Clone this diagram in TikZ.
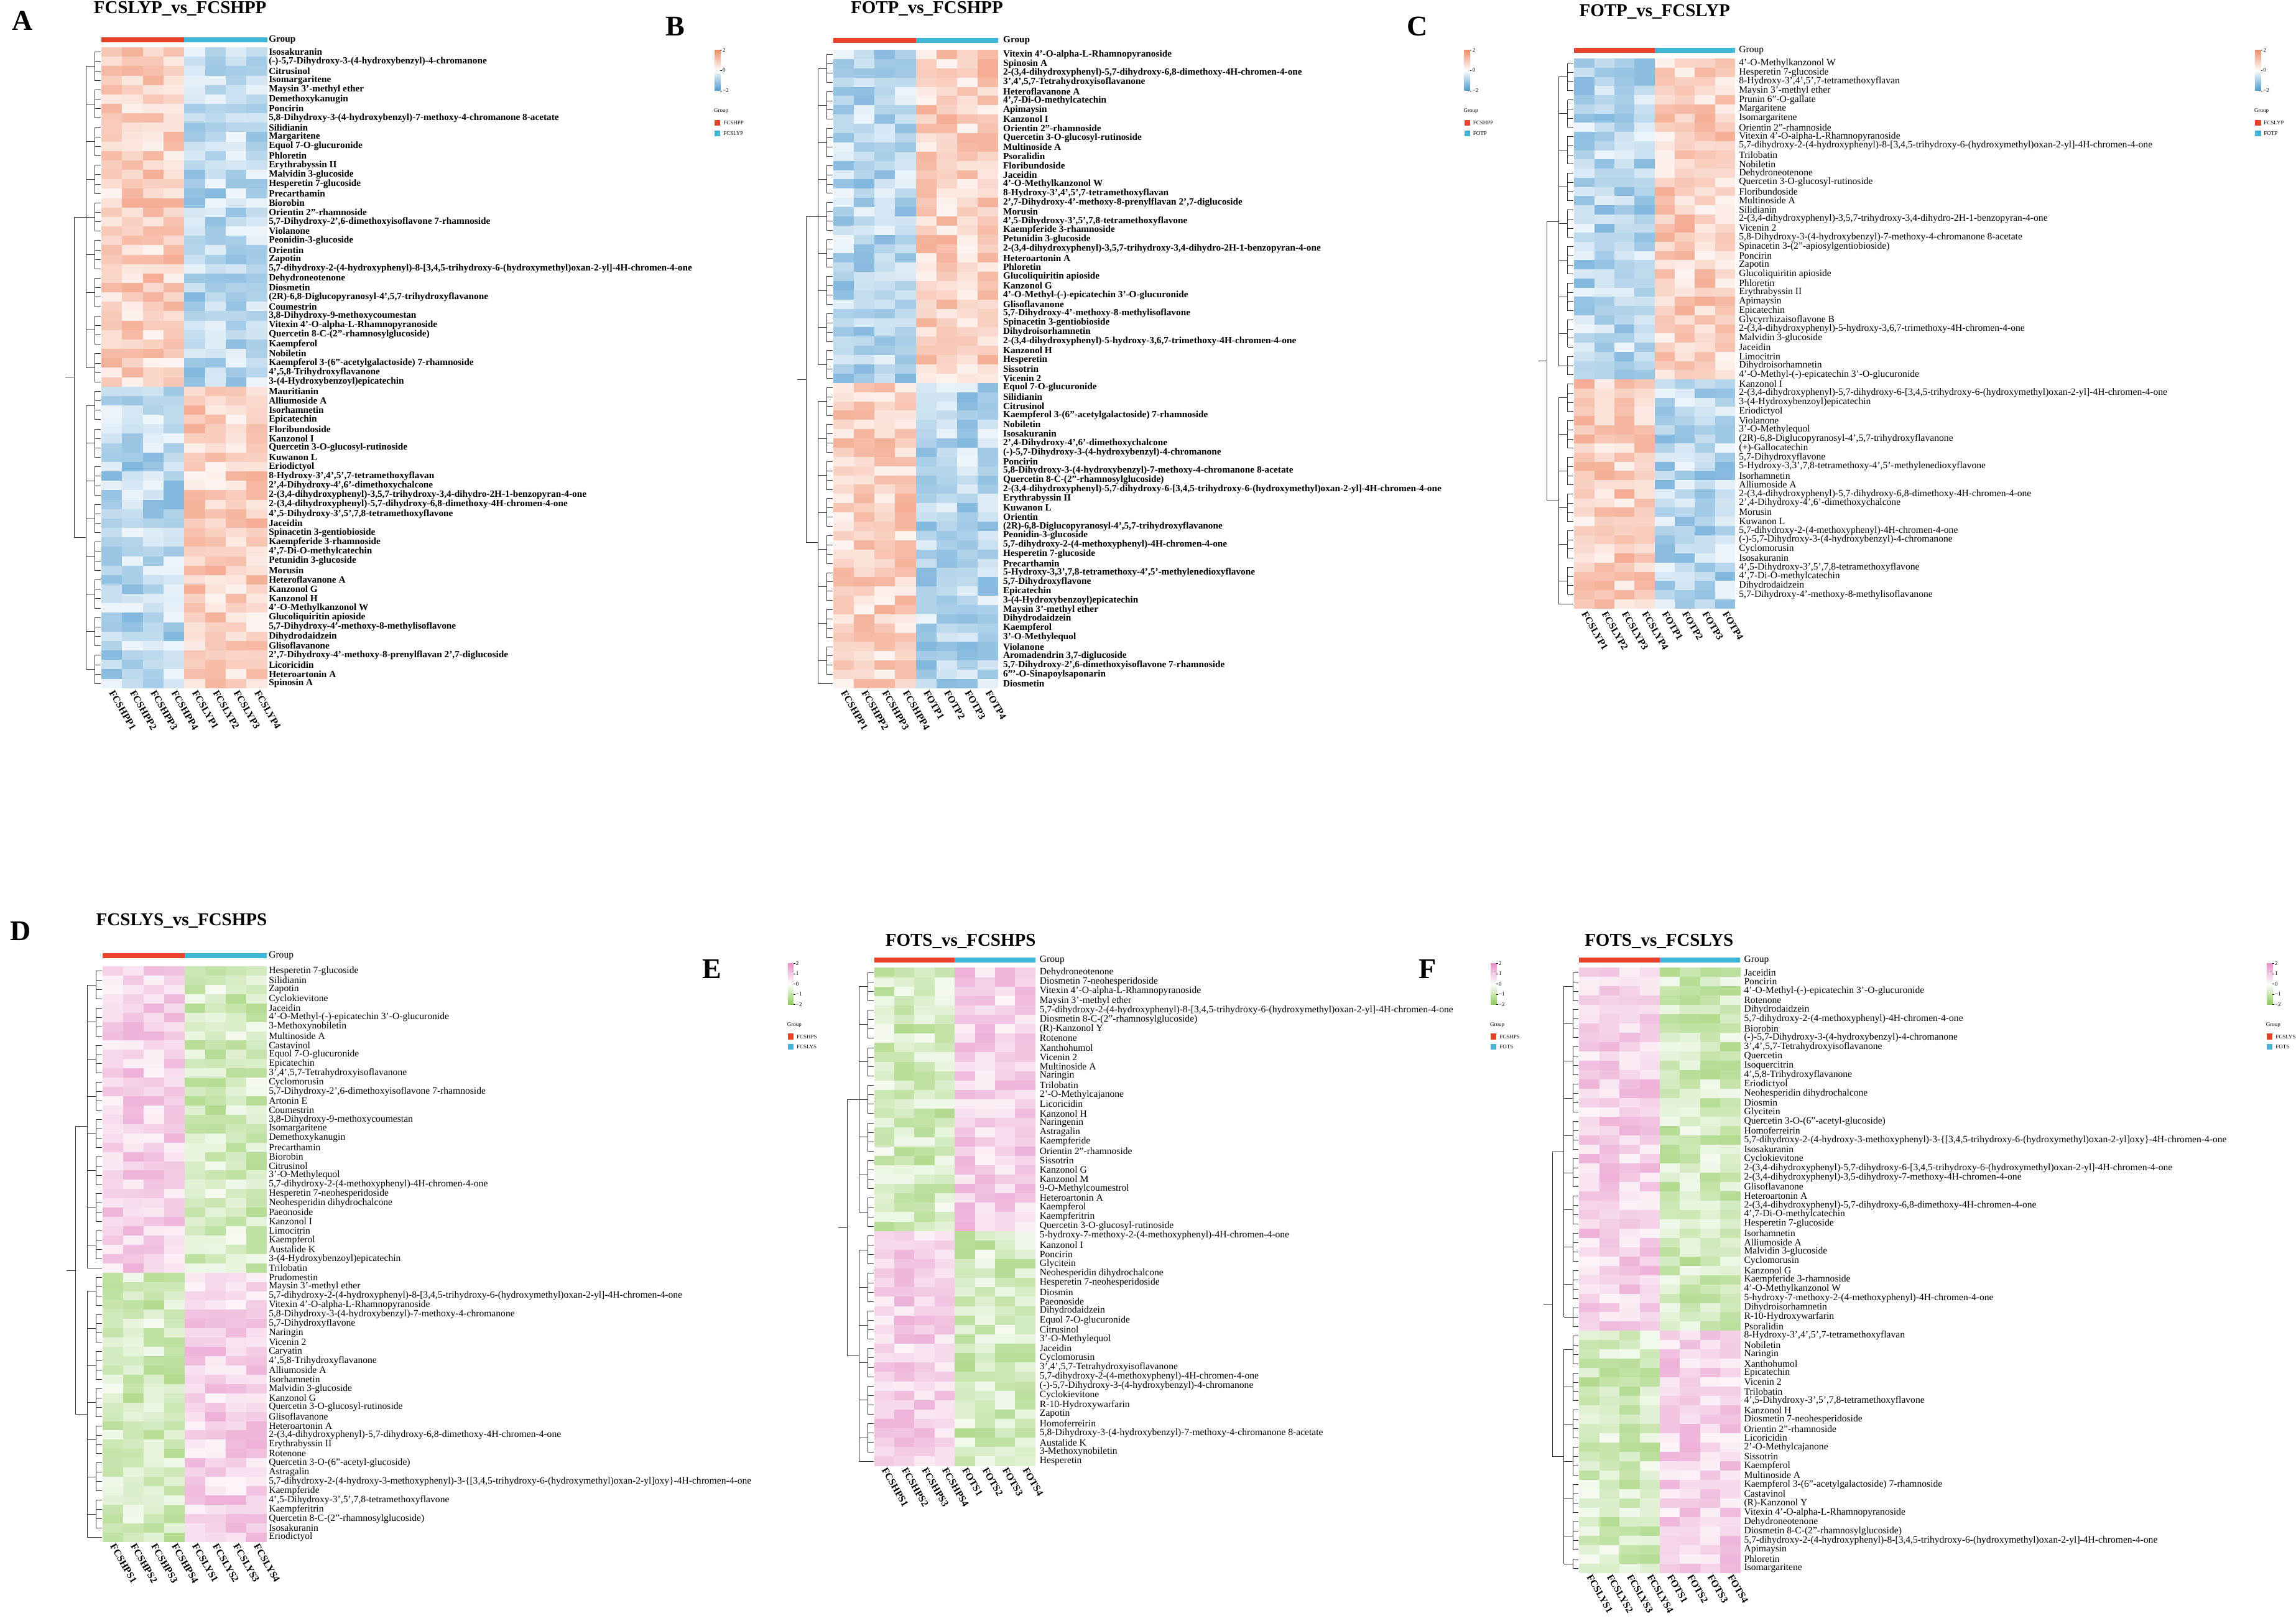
\documentclass[tikz,border=0pt]{standalone}
\usepackage{fontspec}
\setmainfont{Liberation Serif}
\usepackage{xcolor}
\definecolor{hmRed}{HTML}{F08A66}
\definecolor{hmBlue}{HTML}{4A98CE}
\definecolor{hmPink}{HTML}{E68FC6}
\definecolor{hmGreen}{HTML}{8FCB5C}
\definecolor{grpR}{HTML}{E8412C}
\definecolor{grpB}{HTML}{3FB6D6}

\tikzset{
 rowb/.style={font=\fontsize{15.3}{15}\selectfont\bfseries, anchor=west, inner sep=0pt},
 rown/.style={font=\fontsize{15.6}{15}\selectfont, anchor=west, inner sep=0pt},
 colb/.style={font=\fontsize{16}{16}\selectfont\bfseries, anchor=west, rotate=-60, inner sep=0pt},
 ttl/.style={font=\fontsize{29}{29}\selectfont\bfseries, inner sep=0pt},
 tag/.style={font=\fontsize{46}{46}\selectfont\bfseries, inner sep=0pt},
 leg/.style={font=\fontsize{9}{9}\selectfont, anchor=west, inner sep=0pt},
 dendro/.style={line width=0.6pt, black!80},
}

% x0, cell width, ytop, row height, rows, split, pos colour, neg colour, sign of upper-left block
\newcommand\heatmap[9]{%
 \foreach \r in {1,...,#5}{
  \foreach \c in {1,...,8}{
   \pgfmathsetmacro\hv{(\r<=#6 ? 1 : -1)*(\c<=4 ? 1 : -1)*#9*(0.1+0.6*rnd)}
   \pgfmathtruncatemacro\hp{abs(\hv)*100}
   \ifdim\hv pt>0pt \colorlet{hc}{#7!\hp!white}\else\colorlet{hc}{#8!\hp!white}\fi
   \fill[hc] ({#1+(\c-1)*#2},{#3+(\r-1)*#4}) rectangle ({#1+\c*#2+0.05},{#3+\r*#4+0.05});
  }}}

% one cluster of the row tree: x right, ytop, row height, first row, last row
\newcommand\dcluster[5]{%
 \pgfmathtruncatemacro\dng{ceil((#5-#4+1)/4)}
 \foreach \g in {1,...,\dng}{
  \pgfmathtruncatemacro\dfa{#4+4*(\g-1)}
  \pgfmathtruncatemacro\dla{min(\dfa+3,#5)}
  \foreach \rr in {\dfa,...,\dla}{\draw[dendro] (#1,{#2+(\rr-0.5)*#3}) -- (#1-4,{#2+(\rr-0.5)*#3});}
  \draw[dendro] (#1-4,{#2+(\dfa-0.5)*#3}) -- (#1-4,{#2+(\dla-0.5)*#3});
  \draw[dendro] (#1-4,{#2+((\dfa+\dla)/2-0.5)*#3}) -- (#1-10,{#2+((\dfa+\dla)/2-0.5)*#3});
 }
 \pgfmathsetmacro\dya{#2+((#4+min(#4+3,#5))/2-0.5)*#3}
 \pgfmathtruncatemacro\dfl{#4+4*(\dng-1)}
 \pgfmathsetmacro\dyb{#2+((\dfl+#5)/2-0.5)*#3}
 \draw[dendro] (#1-10,\dya) -- (#1-10,\dyb);
 \pgfmathsetmacro\dym{(\dya+\dyb)/2}
 \draw[dendro] (#1-10,\dym) -- (#1-18,\dym);
 \xdef\dmid{\dym}}

\newcommand\dendro[5]{%
 \dcluster{#1}{#2}{#3}{1}{#5}\let\dmA\dmid
 \pgfmathtruncatemacro\dsp{#5+1}
 \dcluster{#1}{#2}{#3}{\dsp}{#4}\let\dmB\dmid
 \draw[dendro] (#1-18,\dmA) -- (#1-18,\dmB);
 \draw[dendro] (#1-18,{(\dmA+\dmB)/2}) -- (#1-24,{(\dmA+\dmB)/2});}

% colour key: x, y, pos, neg, group 1, group 2, ticks, name
\newcommand\hmkey[8]{%
 \shade[top color=#3, bottom color=#4, middle color=white] (#1,#2) rectangle (#1+4,#2+28);
 \foreach \tl/\tf [count=\k] in {#7}{
  \draw[line width=0.4pt] (#1+4,{#2+\tf*28}) -- (#1+5,{#2+\tf*28});
  \node[leg] (#8-t\k) at (#1+5.5,{#2+\tf*28}) {\tl};}
 \node[leg] (#8-grp) at (#1-0.5,#2+42) {Group};
 \fill[grpR] (#1,#2+48) rectangle (#1+4,#2+52);
 \node[leg] (#8-g1) at (#1+6,#2+50) {#5};
 \fill[grpB] (#1,#2+55) rectangle (#1+4,#2+59);
 \node[leg] (#8-g2) at (#1+6,#2+57) {#6};}

% group bar: x0, cell width, y
\newcommand\grpbar[3]{%
 \fill[grpR] (#1,#3) rectangle (#1+4*#2,#3+3.4);
 \fill[grpB] (#1+4*#2,#3) rectangle (#1+8*#2,#3+3.4);}

\begin{document}
\begin{tikzpicture}[x=2.355pt,y=-2.355pt]
\useasboundingbox[fill=white] (0,0) rectangle (1568,1107);

% ---------------- A
\node[tag] (A-tag) at (15.5,14) {A};
\node[ttl] (A-title) at (123,6) {FCSLYP\_vs\_FCSHPP};
\grpbar{69.2}{14.17}{25.5}
\node[rowb] (A-grp) at (183.5,27.2) {Group};
\pgfmathsetseed{11}
\heatmap{69.2}{14.17}{32.3}{6.437}{68}{36}{hmRed}{hmBlue}{1}
\dendro{68.7}{32.3}{6.437}{68}{36}
\foreach \t [count=\i] in {{Isosakuranin},{(-)-5,7-Dihydroxy-3-(4-hydroxybenzyl)-4-chromanone},{Citrusinol},{Isomargaritene},{Maysin 3'-methyl ether},{Demethoxykanugin},{Poncirin},{5,8-Dihydroxy-3-(4-hydroxybenzyl)-7-methoxy-4-chromanone 8-acetate},{Silidianin},{Margaritene},{Equol 7-O-glucuronide},{Phloretin},{Erythrabyssin II},{Malvidin 3-glucoside},{Hesperetin 7-glucoside},{Precarthamin},{Biorobin},{Orientin 2''-rhamnoside},{5,7-Dihydroxy-2',6-dimethoxyisoflavone 7-rhamnoside},{Violanone},{Peonidin-3-glucoside},{Orientin},{Zapotin},{5,7-dihydroxy-2-(4-hydroxyphenyl)-8-[3,4,5-trihydroxy-6-(hydroxymethyl)oxan-2-yl]-4H-chromen-4-one},{Dehydroneotenone},{Diosmetin},{(2R)-6,8-Diglucopyranosyl-4',5,7-trihydroxyflavanone},{Coumestrin},{3,8-Dihydroxy-9-methoxycoumestan},{Vitexin 4'-O-alpha-L-Rhamnopyranoside},{Quercetin 8-C-(2''-rhamnosylglucoside)},{Kaempferol},{Nobiletin},{Kaempferol 3-(6''-acetylgalactoside) 7-rhamnoside},{4',5,8-Trihydroxyflavanone},{3-(4-Hydroxybenzoyl)epicatechin},{Mauritianin},{Alliumoside A},{Isorhamnetin},{Epicatechin},{Floribundoside},{Kanzonol I},{Quercetin 3-O-glucosyl-rutinoside},{Kuwanon L},{Eriodictyol},{8-Hydroxy-3',4',5',7-tetramethoxyflavan},{2',4-Dihydroxy-4',6'-dimethoxychalcone},{2-(3,4-dihydroxyphenyl)-3,5,7-trihydroxy-3,4-dihydro-2H-1-benzopyran-4-one},{2-(3,4-dihydroxyphenyl)-5,7-dihydroxy-6,8-dimethoxy-4H-chromen-4-one},{4',5-Dihydroxy-3',5',7,8-tetramethoxyflavone},{Jaceidin},{Spinacetin 3-gentiobioside},{Kaempferide 3-rhamnoside},{4',7-Di-O-methylcatechin},{Petunidin 3-glucoside},{Morusin},{Heteroflavanone A},{Kanzonol G},{Kanzonol H},{4'-O-Methylkanzonol W},{Glucoliquiritin apioside},{5,7-Dihydroxy-4'-methoxy-8-methylisoflavone},{Dihydrodaidzein},{Glisoflavanone},{2',7-Dihydroxy-4'-methoxy-8-prenylflavan 2',7-diglucoside},{Licoricidin},{Heteroartonin A},{Spinosin A}}
  \node[rowb] (A\i) at (183.5,{32.3+(\i-0.5)*6.437}) {\t};
\foreach \t [count=\i] in {FCSHPP1,FCSHPP2,FCSHPP3,FCSHPP4,FCSLYP1,FCSLYP2,FCSLYP3,FCSLYP4}
  \node[colb] (Ac\i) at ({69.2+(\i-0.5)*14.17},472) {\t};
\hmkey{488}{34}{hmRed}{hmBlue}{FCSHPP}{FCSLYP}{2/0,0/0.5,−2/1}{Ak}

% ---------------- B
\node[tag] (B-tag) at (461,18) {B};
\node[ttl] (B-title) at (633,6) {FOTP\_vs\_FCSHPP};
\grpbar{569}{14.1}{26}
\node[rowb] (B-grp) at (685,27.7) {Group};
\pgfmathsetseed{23}
\heatmap{569}{14.1}{34}{6.32}{69}{36}{hmRed}{hmBlue}{-1}
\dendro{568.5}{34}{6.32}{69}{36}
\foreach \t [count=\i] in {{Vitexin 4'-O-alpha-L-Rhamnopyranoside},{Spinosin A},{2-(3,4-dihydroxyphenyl)-5,7-dihydroxy-6,8-dimethoxy-4H-chromen-4-one},{3',4',5,7-Tetrahydroxyisoflavanone},{Heteroflavanone A},{4',7-Di-O-methylcatechin},{Apimaysin},{Kanzonol I},{Orientin 2''-rhamnoside},{Quercetin 3-O-glucosyl-rutinoside},{Multinoside A},{Psoralidin},{Floribundoside},{Jaceidin},{4'-O-Methylkanzonol W},{8-Hydroxy-3',4',5',7-tetramethoxyflavan},{2',7-Dihydroxy-4'-methoxy-8-prenylflavan 2',7-diglucoside},{Morusin},{4',5-Dihydroxy-3',5',7,8-tetramethoxyflavone},{Kaempferide 3-rhamnoside},{Petunidin 3-glucoside},{2-(3,4-dihydroxyphenyl)-3,5,7-trihydroxy-3,4-dihydro-2H-1-benzopyran-4-one},{Heteroartonin A},{Phloretin},{Glucoliquiritin apioside},{Kanzonol G},{4'-O-Methyl-(-)-epicatechin 3'-O-glucuronide},{Glisoflavanone},{5,7-Dihydroxy-4'-methoxy-8-methylisoflavone},{Spinacetin 3-gentiobioside},{Dihydroisorhamnetin},{2-(3,4-dihydroxyphenyl)-5-hydroxy-3,6,7-trimethoxy-4H-chromen-4-one},{Kanzonol H},{Hesperetin},{Sissotrin},{Vicenin 2},{Equol 7-O-glucuronide},{Silidianin},{Citrusinol},{Kaempferol 3-(6''-acetylgalactoside) 7-rhamnoside},{Nobiletin},{Isosakuranin},{2',4-Dihydroxy-4',6'-dimethoxychalcone},{(-)-5,7-Dihydroxy-3-(4-hydroxybenzyl)-4-chromanone},{Poncirin},{5,8-Dihydroxy-3-(4-hydroxybenzyl)-7-methoxy-4-chromanone 8-acetate},{Quercetin 8-C-(2''-rhamnosylglucoside)},{2-(3,4-dihydroxyphenyl)-5,7-dihydroxy-6-[3,4,5-trihydroxy-6-(hydroxymethyl)oxan-2-yl]-4H-chromen-4-one},{Erythrabyssin II},{Kuwanon L},{Orientin},{(2R)-6,8-Diglucopyranosyl-4',5,7-trihydroxyflavanone},{Peonidin-3-glucoside},{5,7-dihydroxy-2-(4-methoxyphenyl)-4H-chromen-4-one},{Hesperetin 7-glucoside},{Precarthamin},{5-Hydroxy-3,3',7,8-tetramethoxy-4',5'-methylenedioxyflavone},{5,7-Dihydroxyflavone},{Epicatechin},{3-(4-Hydroxybenzoyl)epicatechin},{Maysin 3'-methyl ether},{Dihydrodaidzein},{Kaempferol},{3'-O-Methylequol},{Violanone},{Aromadendrin 3,7-diglucoside},{5,7-Dihydroxy-2',6-dimethoxyisoflavone 7-rhamnoside},{6'''-O-Sinapoylsaponarin},{Diosmetin}}
  \node[rowb] (B\i) at (685,{34+(\i-0.5)*6.32}) {\t};
\foreach \t [count=\i] in {FCSHPP1,FCSHPP2,FCSHPP3,FCSHPP4,FOTP1,FOTP2,FOTP3,FOTP4}
  \node[colb] (Bc\i) at ({569+(\i-0.5)*14.1},472) {\t};
\hmkey{1000}{34}{hmRed}{hmBlue}{FCSHPP}{FOTP}{2/0,0/0.5,−2/1}{Bk}

% ---------------- C
\node[tag] (C-tag) at (968,18) {C};
\node[ttl] (C-title) at (1130,8) {FOTP\_vs\_FCSLYP};
\grpbar{1075}{13.75}{32.5}
\node[rown] (C-grp) at (1187.5,34.2) {Group};
\pgfmathsetseed{37}
\heatmap{1075}{13.75}{40}{6.26}{60}{35}{hmRed}{hmBlue}{-1}
\dendro{1074.5}{40}{6.26}{60}{35}
\foreach \t [count=\i] in {{4'-O-Methylkanzonol W},{Hesperetin 7-glucoside},{8-Hydroxy-3',4',5',7-tetramethoxyflavan},{Maysin 3'-methyl ether},{Prunin 6''-O-gallate},{Margaritene},{Isomargaritene},{Orientin 2''-rhamnoside},{Vitexin 4'-O-alpha-L-Rhamnopyranoside},{5,7-dihydroxy-2-(4-hydroxyphenyl)-8-[3,4,5-trihydroxy-6-(hydroxymethyl)oxan-2-yl]-4H-chromen-4-one},{Trilobatin},{Nobiletin},{Dehydroneotenone},{Quercetin 3-O-glucosyl-rutinoside},{Floribundoside},{Multinoside A},{Silidianin},{2-(3,4-dihydroxyphenyl)-3,5,7-trihydroxy-3,4-dihydro-2H-1-benzopyran-4-one},{Vicenin 2},{5,8-Dihydroxy-3-(4-hydroxybenzyl)-7-methoxy-4-chromanone 8-acetate},{Spinacetin 3-(2''-apiosylgentiobioside)},{Poncirin},{Zapotin},{Glucoliquiritin apioside},{Phloretin},{Erythrabyssin II},{Apimaysin},{Epicatechin},{Glycyrrhizaisoflavone B},{2-(3,4-dihydroxyphenyl)-5-hydroxy-3,6,7-trimethoxy-4H-chromen-4-one},{Malvidin 3-glucoside},{Jaceidin},{Limocitrin},{Dihydroisorhamnetin},{4'-O-Methyl-(-)-epicatechin 3'-O-glucuronide},{Kanzonol I},{2-(3,4-dihydroxyphenyl)-5,7-dihydroxy-6-[3,4,5-trihydroxy-6-(hydroxymethyl)oxan-2-yl]-4H-chromen-4-one},{3-(4-Hydroxybenzoyl)epicatechin},{Eriodictyol},{Violanone},{3'-O-Methylequol},{(2R)-6,8-Diglucopyranosyl-4',5,7-trihydroxyflavanone},{(+)-Gallocatechin},{5,7-Dihydroxyflavone},{5-Hydroxy-3,3',7,8-tetramethoxy-4',5'-methylenedioxyflavone},{Isorhamnetin},{Alliumoside A},{2-(3,4-dihydroxyphenyl)-5,7-dihydroxy-6,8-dimethoxy-4H-chromen-4-one},{2',4-Dihydroxy-4',6'-dimethoxychalcone},{Morusin},{Kuwanon L},{5,7-dihydroxy-2-(4-methoxyphenyl)-4H-chromen-4-one},{(-)-5,7-Dihydroxy-3-(4-hydroxybenzyl)-4-chromanone},{Cyclomorusin},{Isosakuranin},{4',5-Dihydroxy-3',5',7,8-tetramethoxyflavone},{4',7-Di-O-methylcatechin},{Dihydrodaidzein},{5,7-Dihydroxy-4'-methoxy-8-methylisoflavanone}}
  \node[rown] (C\i) at (1187.5,{40+(\i-0.5)*6.26}) {\t};
\foreach \t [count=\i] in {FCSLYP1,FCSLYP2,FCSLYP3,FCSLYP4,FOTP1,FOTP2,FOTP3,FOTP4}
  \node[colb] (Cc\i) at ({1075+(\i-0.5)*13.75},418) {\t};
\hmkey{1540}{34}{hmRed}{hmBlue}{FCSLYP}{FOTP}{2/0,0/0.5,−2/1}{Ck}

% ---------------- D
\node[tag] (D-tag) at (14,636) {D};
\node[ttl] (D-title) at (124,629) {FCSLYS\_vs\_FCSHPS};
\grpbar{70}{14}{651}
\node[rown] (D-grp) at (183.5,652.7) {Group};
\pgfmathsetseed{41}
\heatmap{70}{14}{660}{6.34}{62}{33}{hmPink}{hmGreen}{1}
\dendro{69.5}{660}{6.34}{62}{33}
\foreach \t [count=\i] in {{Hesperetin 7-glucoside},{Silidianin},{Zapotin},{Cyclokievitone},{Jaceidin},{4'-O-Methyl-(-)-epicatechin 3'-O-glucuronide},{3-Methoxynobiletin},{Multinoside A},{Castavinol},{Equol 7-O-glucuronide},{Epicatechin},{3',4',5,7-Tetrahydroxyisoflavanone},{Cyclomorusin},{5,7-Dihydroxy-2',6-dimethoxyisoflavone 7-rhamnoside},{Artonin E},{Coumestrin},{3,8-Dihydroxy-9-methoxycoumestan},{Isomargaritene},{Demethoxykanugin},{Precarthamin},{Biorobin},{Citrusinol},{3'-O-Methylequol},{5,7-dihydroxy-2-(4-methoxyphenyl)-4H-chromen-4-one},{Hesperetin 7-neohesperidoside},{Neohesperidin dihydrochalcone},{Paeonoside},{Kanzonol I},{Limocitrin},{Kaempferol},{Austalide K},{3-(4-Hydroxybenzoyl)epicatechin},{Trilobatin},{Prudomestin},{Maysin 3'-methyl ether},{5,7-dihydroxy-2-(4-hydroxyphenyl)-8-[3,4,5-trihydroxy-6-(hydroxymethyl)oxan-2-yl]-4H-chromen-4-one},{Vitexin 4'-O-alpha-L-Rhamnopyranoside},{5,8-Dihydroxy-3-(4-hydroxybenzyl)-7-methoxy-4-chromanone},{5,7-Dihydroxyflavone},{Naringin},{Vicenin 2},{Caryatin},{4',5,8-Trihydroxyflavanone},{Alliumoside A},{Isorhamnetin},{Malvidin 3-glucoside},{Kanzonol G},{Quercetin 3-O-glucosyl-rutinoside},{Glisoflavanone},{Heteroartonin A},{2-(3,4-dihydroxyphenyl)-5,7-dihydroxy-6,8-dimethoxy-4H-chromen-4-one},{Erythrabyssin II},{Rotenone},{Quercetin 3-O-(6''-acetyl-glucoside)},{Astragalin},{5,7-dihydroxy-2-(4-hydroxy-3-methoxyphenyl)-3-\{[3,4,5-trihydroxy-6-(hydroxymethyl)oxan-2-yl]oxy\}-4H-chromen-4-one},{Kaempferide},{4',5-Dihydroxy-3',5',7,8-tetramethoxyflavone},{Kaempferitrin},{Quercetin 8-C-(2''-rhamnosylglucoside)},{Isosakuranin},{Eriodictyol}}
  \node[rown] (D\i) at (183.5,{660+(\i-0.5)*6.34}) {\t};
\foreach \t [count=\i] in {FCSHPS1,FCSHPS2,FCSHPS3,FCSHPS4,FCSLYS1,FCSLYS2,FCSLYS3,FCSLYS4}
  \node[colb] (Dc\i) at ({70+(\i-0.5)*14},1055) {\t};
\hmkey{538}{658}{hmPink}{hmGreen}{FCSHPS}{FCSLYS}{2/0,1/0.25,0/0.5,−1/0.75,−2/1}{Dk}

% ---------------- E
\node[tag] (E-tag) at (486,662) {E};
\node[ttl] (E-title) at (656,643) {FOTS\_vs\_FCSHPS};
\grpbar{597}{13.75}{654}
\node[rown] (E-grp) at (710,655.7) {Group};
\pgfmathsetseed{53}
\heatmap{597}{13.75}{661}{6.42}{53}{28}{hmPink}{hmGreen}{-1}
\dendro{596.5}{661}{6.42}{53}{28}
\foreach \t [count=\i] in {{Dehydroneotenone},{Diosmetin 7-neohesperidoside},{Vitexin 4'-O-alpha-L-Rhamnopyranoside},{Maysin 3'-methyl ether},{5,7-dihydroxy-2-(4-hydroxyphenyl)-8-[3,4,5-trihydroxy-6-(hydroxymethyl)oxan-2-yl]-4H-chromen-4-one},{Diosmetin 8-C-(2''-rhamnosylglucoside)},{(R)-Kanzonol Y},{Rotenone},{Xanthohumol},{Vicenin 2},{Multinoside A},{Naringin},{Trilobatin},{2'-O-Methylcajanone},{Licoricidin},{Kanzonol H},{Naringenin},{Astragalin},{Kaempferide},{Orientin 2''-rhamnoside},{Sissotrin},{Kanzonol G},{Kanzonol M},{9-O-Methylcoumestrol},{Heteroartonin A},{Kaempferol},{Kaempferitrin},{Quercetin 3-O-glucosyl-rutinoside},{5-hydroxy-7-methoxy-2-(4-methoxyphenyl)-4H-chromen-4-one},{Kanzonol I},{Poncirin},{Glycitein},{Neohesperidin dihydrochalcone},{Hesperetin 7-neohesperidoside},{Diosmin},{Paeonoside},{Dihydrodaidzein},{Equol 7-O-glucuronide},{Citrusinol},{3'-O-Methylequol},{Jaceidin},{Cyclomorusin},{3',4',5,7-Tetrahydroxyisoflavanone},{5,7-dihydroxy-2-(4-methoxyphenyl)-4H-chromen-4-one},{(-)-5,7-Dihydroxy-3-(4-hydroxybenzyl)-4-chromanone},{Cyclokievitone},{R-10-Hydroxywarfarin},{Zapotin},{Homoferreirin},{5,8-Dihydroxy-3-(4-hydroxybenzyl)-7-methoxy-4-chromanone 8-acetate},{Austalide K},{3-Methoxynobiletin},{Hesperetin}}
  \node[rown] (E\i) at (710,{661+(\i-0.5)*6.42}) {\t};
\foreach \t [count=\i] in {FCSHPS1,FCSHPS2,FCSHPS3,FCSHPS4,FOTS1,FOTS2,FOTS3,FOTS4}
  \node[colb] (Ec\i) at ({597+(\i-0.5)*13.75},1003) {\t};
\hmkey{1018}{658}{hmPink}{hmGreen}{FCSHPS}{FOTS}{2/0,1/0.25,0/0.5,−1/0.75,−2/1}{Ek}

% ---------------- F
\node[tag] (F-tag) at (975,662) {F};
\node[ttl] (F-title) at (1133,643) {FOTS\_vs\_FCSLYS};
\grpbar{1078.5}{13.75}{654}
\node[rown] (F-grp) at (1191,655.7) {Group};
\pgfmathsetseed{67}
\heatmap{1078.5}{13.75}{661}{6.36}{65}{39}{hmPink}{hmGreen}{1}
\dendro{1078}{661}{6.36}{65}{39}
\foreach \t [count=\i] in {{Jaceidin},{Poncirin},{4'-O-Methyl-(-)-epicatechin 3'-O-glucuronide},{Rotenone},{Dihydrodaidzein},{5,7-dihydroxy-2-(4-methoxyphenyl)-4H-chromen-4-one},{Biorobin},{(-)-5,7-Dihydroxy-3-(4-hydroxybenzyl)-4-chromanone},{3',4',5,7-Tetrahydroxyisoflavanone},{Quercetin},{Isoquercitrin},{4',5,8-Trihydroxyflavanone},{Eriodictyol},{Neohesperidin dihydrochalcone},{Diosmin},{Glycitein},{Quercetin 3-O-(6''-acetyl-glucoside)},{Homoferreirin},{5,7-dihydroxy-2-(4-hydroxy-3-methoxyphenyl)-3-\{[3,4,5-trihydroxy-6-(hydroxymethyl)oxan-2-yl]oxy\}-4H-chromen-4-one},{Isosakuranin},{Cyclokievitone},{2-(3,4-dihydroxyphenyl)-5,7-dihydroxy-6-[3,4,5-trihydroxy-6-(hydroxymethyl)oxan-2-yl]-4H-chromen-4-one},{2-(3,4-dihydroxyphenyl)-3,5-dihydroxy-7-methoxy-4H-chromen-4-one},{Glisoflavanone},{Heteroartonin A},{2-(3,4-dihydroxyphenyl)-5,7-dihydroxy-6,8-dimethoxy-4H-chromen-4-one},{4',7-Di-O-methylcatechin},{Hesperetin 7-glucoside},{Isorhamnetin},{Alliumoside A},{Malvidin 3-glucoside},{Cyclomorusin},{Kanzonol G},{Kaempferide 3-rhamnoside},{4'-O-Methylkanzonol W},{5-hydroxy-7-methoxy-2-(4-methoxyphenyl)-4H-chromen-4-one},{Dihydroisorhamnetin},{R-10-Hydroxywarfarin},{Psoralidin},{8-Hydroxy-3',4',5',7-tetramethoxyflavan},{Nobiletin},{Naringin},{Xanthohumol},{Epicatechin},{Vicenin 2},{Trilobatin},{4',5-Dihydroxy-3',5',7,8-tetramethoxyflavone},{Kanzonol H},{Diosmetin 7-neohesperidoside},{Orientin 2''-rhamnoside},{Licoricidin},{2'-O-Methylcajanone},{Sissotrin},{Kaempferol},{Multinoside A},{Kaempferol 3-(6''-acetylgalactoside) 7-rhamnoside},{Castavinol},{(R)-Kanzonol Y},{Vitexin 4'-O-alpha-L-Rhamnopyranoside},{Dehydroneotenone},{Diosmetin 8-C-(2''-rhamnosylglucoside)},{5,7-dihydroxy-2-(4-hydroxyphenyl)-8-[3,4,5-trihydroxy-6-(hydroxymethyl)oxan-2-yl]-4H-chromen-4-one},{Apimaysin},{Phloretin},{Isomargaritene}}
  \node[rown] (F\i) at (1191,{661+(\i-0.5)*6.36}) {\t};
\foreach \t [count=\i] in {FCSLYS1,FCSLYS2,FCSLYS3,FCSLYS4,FOTS1,FOTS2,FOTS3,FOTS4}
  \node[colb] (Fc\i) at ({1078.5+(\i-0.5)*13.75},1076) {\t};
\hmkey{1548}{658}{hmPink}{hmGreen}{FCSLYS}{FOTS}{2/0,1/0.25,0/0.5,−1/0.75,−2/1}{Fk}
\end{tikzpicture}
\end{document}
